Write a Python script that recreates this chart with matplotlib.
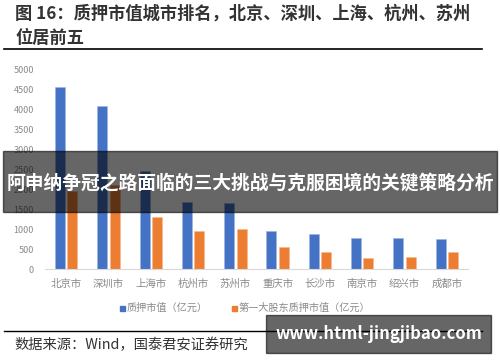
import numpy as np
import matplotlib
matplotlib.use("Agg")
import matplotlib.pyplot as plt
from matplotlib.patches import Rectangle
from matplotlib.lines import Line2D

plt.rcParams['font.family'] = ['Noto Sans CJK SC', 'DejaVu Sans']

cities = ['北京市', '深圳市', '上海市', '杭州市', '苏州市',
          '重庆市', '长沙市', '南京市', '绍兴市', '成都市']
pledge_value = [4570, 4090, 2470, 1680, 1650, 960, 880, 790, 775, 750]
top_holder_value = [1965, 2105, 1300, 960, 1020, 550, 430, 295, 320, 430]
yticks = np.arange(0, 5001, 500)

W, H = 500, 362
fig = plt.figure(figsize=(W / 100, H / 100), dpi=100)


def fx(x):
    return x / W


def fy(y):
    return 1 - y / H


# plot area
ax = fig.add_axes([fx(45), fy(269.3), fx(468) - fx(45), fy(69.3) - fy(269.3)])
x = np.arange(len(cities))
bw = 0.236
ax.bar(x - 0.146, pledge_value, bw, color='#4472C4', edgecolor='#9db5e0', linewidth=0.4, zorder=2)
ax.bar(x + 0.146, top_holder_value, bw, color='#ED7D31', edgecolor='#f5b98f', linewidth=0.4, zorder=2)
ax.set_xlim(-0.5, len(cities) - 0.5)
ax.set_ylim(0, 5000)
ax.set_yticks(yticks)
ax.set_yticklabels([str(v) for v in yticks], fontsize=6.5, color='#8a8a8a')
ax.set_xticks(x)
ax.set_xticklabels(cities, fontsize=7.5, color='#8a8a8a')
ax.tick_params(length=0)
ax.tick_params(axis='y', pad=8)
ax.tick_params(axis='x', pad=7)
for s in ['top', 'right', 'left']:
    ax.spines[s].set_visible(False)
ax.spines['bottom'].set_color('#d9d9d9')
ax.spines['bottom'].set_linewidth(0.8)

# legend
fig.patches.append(Rectangle((fx(120), fy(311)), fx(5), 5 / H, color='#4472C4', transform=fig.transFigure))
fig.text(fx(127), fy(308), '质押市值（亿元）', fontsize=7.3, color='#8a8a8a', va='center')
fig.patches.append(Rectangle((fx(232), fy(311)), fx(5), 5 / H, color='#ED7D31', transform=fig.transFigure))
fig.text(fx(239), fy(308), '第一大股东质押市值（亿元）', fontsize=7.3, color='#8a8a8a', va='center')

# title and source
fig.text(fx(15), fy(14), '图 16：质押市值城市排名，北京、深圳、上海、杭州、苏州',
         fontsize=12.4, color='#333333', va='center', fontweight='bold')
fig.text(fx(15), fy(38), '位居前五', fontsize=12.4, color='#333333', va='center', fontweight='bold')
fig.lines.append(Line2D([fx(4), fx(482)], [fy(49.3), fy(49.3)], color='black', lw=1.2, transform=fig.transFigure))
fig.lines.append(Line2D([fx(4), fx(482)], [fy(331.3), fy(331.3)], color='black', lw=1.0, transform=fig.transFigure))
fig.text(fx(14), fy(345), '数据来源：Wind，国泰君安证券研究', fontsize=10.3, color='#333333', va='center')

# overlays
fig.patches.append(Rectangle((fx(3), fy(211.7)), fx(494), (211.7 - 151) / H,
                             color='black', alpha=0.6, transform=fig.transFigure, zorder=10))
fig.text(fx(250), fy(184), '阿申纳争冠之路面临的三大挑战与克服困境的关键策略分析',
         fontsize=13.5, color='white', fontweight='bold', ha='center', va='center', zorder=11)
fig.patches.append(Rectangle((fx(266), fy(352.7)), fx(225), (352.7 - 315) / H,
                             color='black', alpha=0.6, transform=fig.transFigure, zorder=10))
fig.text(fx(379), fy(334), 'www.html-jingjibao.com', fontsize=12, color='white',
         fontweight='bold', ha='center', va='center', zorder=11)

fig.savefig('out.png', dpi=100)
